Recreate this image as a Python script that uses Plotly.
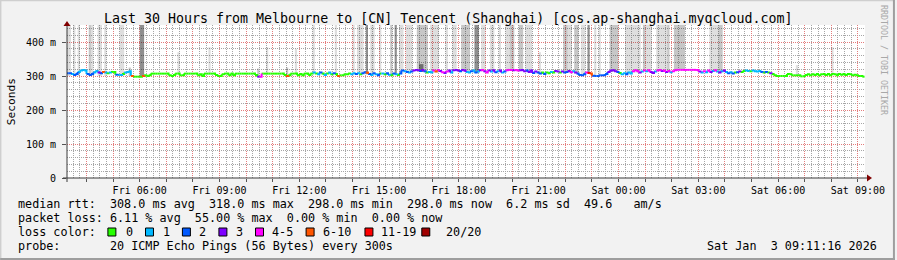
import plotly.graph_objects as go
import pandas as pd

# ---------------- data ----------------
T0 = pd.Timestamp("2026-01-02 03:15")      # first 5-minute step
STEP_MIN = 5
X_START = "2026-01-02 03:16"
X_END = "2026-01-03 09:16"

median_ms = [
    308, 308, 306, 303, 306, 312, 316, 318, 316, 306,
    303, 306, 310, 315, 310, 308, 312, 310, 308, 310,
    312, 312, 304, 303, 303, 306, 310, 312, 314, 300,
    298, 298, 298, 298, 300, 302, 300, 302, 307, 307,
    307, 307, 307, 307, 307, 307, 302, 300, 303, 307,
    307, 302, 302, 307, 307, 307, 307, 307, 307, 302,
    305, 300, 307, 307, 307, 307, 307, 303, 300, 300,
    305, 307, 307, 302, 307, 302, 307, 307, 307, 307,
    307, 307, 307, 307, 307, 303, 298, 298, 307, 307,
    307, 307, 307, 307, 307, 307, 307, 307, 303, 300,
    302, 307, 307, 307, 302, 306, 302, 307, 307, 303,
    307, 310, 307, 305, 310, 307, 303, 307, 310, 305,
    308, 306, 300, 302, 302, 305, 305, 307, 305, 308,
    306, 308, 305, 308, 311, 310, 306, 303, 308, 305,
    302, 307, 307, 305, 308, 304, 302, 307, 305, 303,
    307, 316, 314, 312, 310, 313, 316, 318, 317, 315,
    318, 314, 310, 312, 310, 316, 313, 317, 315, 311,
    309, 313, 316, 310, 317, 318, 316, 314, 318, 316,
    312, 310, 314, 316, 310, 313, 317, 318, 314, 310,
    316, 313, 317, 311, 314, 316, 310, 313, 317, 318,
    318, 317, 318, 316, 317, 318, 314, 316, 312, 316,
    309, 313, 310, 307, 310, 306, 310, 308, 312, 310,
    315, 313, 310, 313, 310, 312, 315, 311, 314, 310,
    307, 303, 302, 305, 310, 309, 307, 301, 300, 300,
    302, 302, 302, 306, 312, 316, 317, 314, 312, 309,
    305, 308, 305, 310, 307, 314, 317, 315, 310, 313,
    316, 314, 317, 312, 309, 313, 316, 318, 315, 316,
    312, 315, 311, 314, 317, 318, 318, 318, 318, 318,
    318, 318, 318, 318, 318, 313, 310, 314, 311, 316,
    312, 315, 317, 313, 310, 314, 316, 312, 308, 311,
    307, 310, 311, 313, 312, 315, 316, 315, 314, 316,
    314, 313, 315, 312, 310, 312, 310, 308, 306, 302,
    300, 300, 300, 300, 300, 306, 305, 302, 302, 302,
    302, 299, 299, 303, 305, 302, 305, 303, 306, 302,
    305, 306, 303, 306, 302, 306, 305, 302, 306, 304,
    306, 303, 306, 305, 302, 304, 302, 300, 300, 298,
]

lost_pings = [
    2, 2, 1, 2, 2, 1, 1, 1, 1, 2,
    2, 2, 1, 1, 3, 2, 7, 1, 0, 1,
    0, 0, 2, 1, 1, 0, 1, 1, 1, 8,
    0, 0, 0, 0, 7, 0, 0, 0, 0, 0,
    0, 0, 0, 0, 0, 0, 0, 0, 0, 0,
    0, 0, 0, 0, 0, 0, 0, 0, 0, 0,
    0, 0, 0, 0, 0, 0, 0, 0, 0, 0,
    0, 0, 0, 0, 0, 0, 0, 0, 0, 0,
    0, 0, 0, 0, 0, 0, 3, 4, 0, 0,
    0, 0, 0, 0, 0, 0, 0, 0, 0, 7,
    0, 0, 0, 0, 0, 0, 0, 0, 0, 0,
    0, 1, 0, 1, 2, 0, 1, 0, 1, 0,
    2, 0, 8, 0, 0, 0, 0, 0, 1, 1,
    2, 1, 0, 2, 2, 7, 2, 1, 2, 1,
    2, 0, 1, 0, 2, 1, 0, 2, 1, 0,
    2, 2, 1, 2, 1, 2, 3, 3, 3, 2,
    3, 2, 0, 1, 1, 4, 7, 4, 3, 4,
    3, 4, 3, 1, 3, 3, 3, 2, 3, 3,
    1, 1, 2, 1, 2, 1, 3, 4, 3, 4,
    3, 1, 3, 2, 1, 3, 1, 2, 4, 4,
    4, 3, 4, 4, 3, 3, 3, 2, 3, 3,
    2, 3, 2, 2, 0, 2, 0, 0, 1, 0,
    3, 3, 0, 3, 2, 2, 3, 4, 1, 3,
    2, 2, 2, 2, 4, 11, 10, 2, 2, 2,
    2, 2, 2, 2, 3, 3, 3, 3, 2, 0,
    1, 1, 2, 1, 1, 4, 4, 4, 3, 1,
    4, 1, 4, 3, 3, 1, 4, 4, 3, 4,
    3, 4, 1, 4, 4, 4, 4, 4, 4, 4,
    4, 4, 4, 4, 4, 3, 1, 4, 1, 4,
    3, 1, 4, 1, 3, 1, 3, 1, 2, 1,
    2, 0, 2, 3, 0, 0, 1, 1, 0, 1,
    1, 1, 1, 2, 0, 2, 0, 3, 0, 0,
    0, 0, 0, 0, 0, 0, 0, 0, 0, 0,
    0, 0, 0, 0, 0, 0, 0, 0, 0, 0,
    0, 0, 0, 0, 0, 0, 0, 0, 0, 0,
    0, 0, 0, 0, 0, 0, 0, 0, 0, 0,
]

loss_labels = ["0", "1", "2", "3", "4-5", "6-10", "11-19", "20/20"]
loss_upper = [0, 1, 2, 3, 5, 10, 19, 20]
loss_colors = ["#26ff00", "#00b8ff", "#0059ff", "#7e00ff",
               "#ff00ff", "#ff5500", "#ff0000", "#a00000"]

# smoke columns: first step, number of steps, low rtt, high rtt, shade index
smoke_step = [0, 3, 5, 10, 11, 14, 17, 24, 28, 33, 50, 64, 86, 90, 99, 103, 111,
              121, 129, 131, 135, 137, 141, 146, 148, 150, 153, 158, 159, 164,
              171, 174, 178, 184, 187, 191, 195, 198, 200, 204, 207, 213, 224,
              226, 229, 232, 235, 238, 240, 245, 252, 255, 260, 261, 266, 271,
              274, 276, 290, 294, 329, 345]
smoke_len = [2, 1, 1, 1, 1, 2, 1, 2, 1, 2, 1, 1, 1, 1, 1, 1, 1,
             1, 1, 3, 1, 2, 1, 1, 1, 2, 3, 5, 2, 4,
             1, 2, 4, 2, 2, 2, 1, 2, 2, 2, 3, 1, 2,
             2, 2, 2, 1, 1, 1, 4, 3, 4, 1, 3, 5, 1,
             2, 3, 4, 2, 1, 1]
smoke_low = [300, 300, 300, 300, 300, 300, 300, 300, 300, 298, 305, 305, 298, 305, 300, 305, 305,
             302, 305, 305, 305, 303, 305, 302, 303, 307, 310, 312, 312, 310,
             313, 316, 314, 310, 314, 313, 316, 317, 317, 317, 312, 307, 310,
             312, 307, 302, 307, 300, 302, 312, 305, 310, 314, 312, 315, 311,
             317, 318, 312, 310, 302, 305]
smoke_high = [460, 460, 460, 460, 460, 460, 460, 460, 325, 460, 370, 385, 322, 385, 325, 380, 460,
              460, 460, 460, 460, 460, 460, 460, 460, 460, 460, 460, 335, 460,
              460, 460, 460, 460, 460, 460, 460, 460, 460, 460, 460, 370, 460,
              460, 460, 460, 460, 460, 460, 460, 460, 460, 460, 460, 460, 460,
              460, 460, 460, 460, 332, 385]
smoke_shade = [0, 0, 0, 1, 0, 0, 0, 0, 1, 2, 0, 0, 1, 0, 1, 0, 0,
               0, 0, 0, 2, 0, 0, 1, 2, 0, 0, 1, 2, 0,
               0, 0, 1, 2, 0, 0, 0, 0, 1, 1, 0, 0, 1,
               0, 1, 0, 2, 0, 0, 1, 0, 0, 1, 0, 0, 1,
               1, 1, 0, 1, 0, 0]
shade_colors = ["rgba(0,0,0,0.13)", "rgba(0,0,0,0.22)", "rgba(0,0,0,0.44)"]

x_tick_labels = ["Fri 06:00", "Fri 09:00", "Fri 12:00", "Fri 15:00", "Fri 18:00",
                 "Fri 21:00", "Sat 00:00", "Sat 03:00", "Sat 06:00", "Sat 09:00"]
y_tick_vals = [0, 100, 200, 300, 400]
y_tick_labels = ["0", "100 m", "200 m", "300 m", "400 m"]

title_text = "Last 30 Hours from Melbourne to [CN] Tencent (Shanghai) [cos.ap-shanghai.myqcloud.com]"
legend_lines = [
    "median rtt:  308.0 ms avg  318.0 ms max  298.0 ms min  298.0 ms now  6.2 ms sd  49.6   am/s",
    "packet loss: 6.11 % avg  55.00 % max  0.00 % min  0.00 % now",
    "loss color:",
    "probe:       20 ICMP Echo Pings (56 Bytes) every 300s",
]
stamp_text = "Sat Jan  3 09:11:16 2026"
side_text = "RRDTOOL / TOBI OETIKER"

# ---------------- geometry helpers ----------------
W, H = 897, 260
PL, PR, PT, PB = 67, 867, 25, 178
YMAX = 450
MONO = "DejaVu Sans Mono"


def xp(px):
    return (px - PL) / (PR - PL)


def yp(py):
    return (PB - py) / (PB - PT)


def nb(s):
    return s.replace(" ", "\u00a0")


step = pd.Timedelta(minutes=STEP_MIN)
times = [T0 + step * i for i in range(len(median_ms) + 1)]


def loss_class(n):
    for k, up in enumerate(loss_upper):
        if n <= up:
            return k
    return len(loss_upper) - 1


fig = go.Figure()

# smoke
for sh, col in enumerate(shade_colors):
    xs, ys, bs, ws = [], [], [], []
    for s, n, lo, hi, sd in zip(smoke_step, smoke_len, smoke_low, smoke_high, smoke_shade):
        if sd != sh:
            continue
        xs.append(times[s])
        bs.append(lo)
        ys.append(hi - lo)
        ws.append(n * STEP_MIN * 60000)
    fig.add_trace(go.Bar(x=xs, y=ys, base=bs, width=ws, offset=0,
                         marker=dict(color=col, line=dict(width=0)),
                         hoverinfo="skip"))

# median line coloured by loss
classes = [loss_class(v) for v in lost_pings]
for k, col in enumerate(loss_colors):
    xs, ys = [], []
    for i, v in enumerate(median_ms):
        if classes[i] != k:
            continue
        nxt = median_ms[i + 1] if i + 1 < len(median_ms) else v
        xs += [times[i], times[i + 1], None]
        ys += [v, nxt, None]
    if xs:
        fig.add_trace(go.Scatter(x=xs, y=ys, mode="lines",
                                 line=dict(color=col, width=2, shape="hv"),
                                 connectgaps=False, hoverinfo="skip"))

# ticks: hourly major grid, labels every 3 hours
hours = pd.date_range("2026-01-02 04:00", "2026-01-03 09:00", freq="1h")
lab_iter = iter(x_tick_labels)
tick_text = [next(lab_iter) if h.hour % 3 == 0 else "" for h in hours]

MAJ = "#e47c7c"
MIN = "#a6a6a6"
DASH = "1px,1px"

fig.update_layout(
    width=W, height=H,
    margin=dict(l=PL, r=W - PR, t=PT, b=H - PB, pad=0),
    paper_bgcolor="#f2f2f2", plot_bgcolor="#ffffff",
    showlegend=False, barmode="overlay",
    xaxis=dict(type="date", range=[X_START, X_END],
               tickmode="array", tickvals=list(hours), ticktext=tick_text,
               ticks="outside", ticklen=3, tickcolor="#545454", tickwidth=1,
               tickfont=dict(family=MONO, size=10, color="#000"),
               showgrid=True, gridcolor=MAJ, griddash=DASH, gridwidth=1,
               minor=dict(dtick=15 * 60000, tick0="2026-01-02 00:00",
                          showgrid=True, gridcolor=MIN, griddash=DASH,
                          gridwidth=1, ticks=""),
               zeroline=False, showline=False, fixedrange=True),
    yaxis=dict(range=[0, YMAX], tickmode="array", tickvals=y_tick_vals,
               ticktext=y_tick_labels, ticks="outside", ticklen=4,
               tickcolor="#545454", ticklabelstandoff=4,
               tickfont=dict(family=MONO, size=10, color="#000"),
               showgrid=True, gridcolor=MAJ, griddash=DASH, gridwidth=1,
               minor=dict(dtick=20, tick0=0, showgrid=True, gridcolor=MIN,
                          griddash=DASH, gridwidth=1, ticks=""),
               zeroline=False, showline=False, fixedrange=True),
)

shapes = []
AX = "#3a3a3a"
ARROW = "#800000"
# axis lines
shapes.append(dict(type="line", xref="paper", yref="paper",
                   x0=xp(63), x1=xp(872), y0=yp(178), y1=yp(178),
                   line=dict(color=AX, width=1)))
shapes.append(dict(type="line", xref="paper", yref="paper",
                   x0=xp(67), x1=xp(67), y0=yp(182), y1=yp(23),
                   line=dict(color=AX, width=1)))
# arrows
shapes.append(dict(type="path", xref="paper", yref="paper",
                   path=f"M {xp(869)} {yp(174.5)} L {xp(874)} {yp(178)} L {xp(869)} {yp(181.5)} Z",
                   fillcolor=ARROW, line=dict(color=ARROW, width=0)))
shapes.append(dict(type="path", xref="paper", yref="paper",
                   path=f"M {xp(63.5)} {yp(26)} L {xp(67)} {yp(21)} L {xp(70.5)} {yp(26)} Z",
                   fillcolor=ARROW, line=dict(color=ARROW, width=0)))
# outer frame
shapes.append(dict(type="line", xref="paper", yref="paper",
                   x0=xp(0), x1=xp(W), y0=yp(0.5), y1=yp(0.5),
                   line=dict(color="#cfcfcf", width=1.5)))
shapes.append(dict(type="line", xref="paper", yref="paper",
                   x0=xp(0.5), x1=xp(0.5), y0=yp(0), y1=yp(H),
                   line=dict(color="#cfcfcf", width=1.5)))
shapes.append(dict(type="line", xref="paper", yref="paper",
                   x0=xp(0), x1=xp(W), y0=yp(H - 1), y1=yp(H - 1),
                   line=dict(color="#9e9e9e", width=2)))
shapes.append(dict(type="line", xref="paper", yref="paper",
                   x0=xp(W - 1), x1=xp(W - 1), y0=yp(0), y1=yp(H),
                   line=dict(color="#9e9e9e", width=2)))

annotations = []


def txt(s, px, py, size=11.75, anchor="left", color="#000", angle=0):
    annotations.append(dict(text=nb(s), x=xp(px), y=yp(py), xref="paper", yref="paper",
                            xanchor=anchor, yanchor="middle", showarrow=False,
                            textangle=angle,
                            font=dict(family=MONO, size=size, color=color)))


txt(title_text, 448.5, 18.5, size=13.3, anchor="center", color="#000")
txt("Seconds", 11, 102, size=11.2, anchor="center", angle=-90)
txt(side_text, 886, 60, size=8.3, anchor="center", color="#a8a8a8", angle=90)

rows_y = [204, 218, 232, 246]
for line, yy in zip(legend_lines, rows_y):
    txt(line, 16, yy)
txt(stamp_text, 881, rows_y[3], anchor="right")

box_x = [108, 145.7, 182.7, 219.3, 256, 306.7, 365.7, 422.7]
lab_x = [124, 161, 197.7, 234, 270.7, 321.7, 380, 445]
for bx, lx, lab, col in zip(box_x, lab_x, loss_labels, loss_colors):
    shapes.append(dict(type="rect", xref="paper", yref="paper",
                       x0=xp(bx), x1=xp(bx + 8), y0=yp(rows_y[2] + 4), y1=yp(rows_y[2] - 4),
                       fillcolor=col, line=dict(color="#000", width=1)))
    txt(lab, lx, rows_y[2])

fig.update_layout(shapes=shapes, annotations=annotations)
fig.write_html("out.html")
